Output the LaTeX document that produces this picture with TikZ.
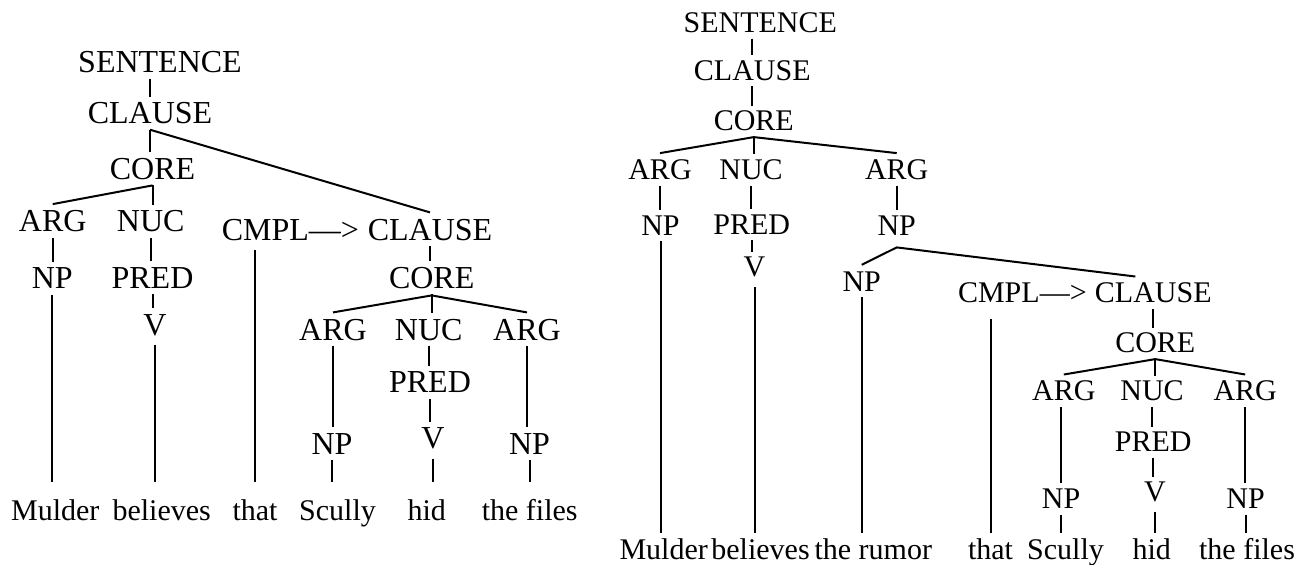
\documentclass[tikz,border=0pt]{standalone}
\usepackage{fontspec}
\setmainfont{Liberation Serif}
\usetikzlibrary{positioning}
\tikzset{
  lbl/.style={inner sep=0pt,anchor=base,text depth=0pt},
  lblL/.style={lbl,font=\fontsize{16}{19}\selectfont,text height=10.6pt}, % left tree labels
  lblR/.style={lbl,font=\fontsize{15}{18}\selectfont,text height=9.9pt},  % right tree labels
  wrd/.style={lbl,font=\fontsize{15}{18}\selectfont,text height=9.9pt},   % words of the sentence
  br/.style={line width=1pt,shorten <=3pt,shorten >=2.5pt},
  brdiag/.style={line width=1pt},
}

\begin{document}
\begin{tikzpicture}[x=0.5pt,y=-0.5pt]
  \useasboundingbox (0,0) rectangle (1305,564);

  % ---- left tree: complement clause ----
  \node[lblL] (Lsen)   at (160,72.3)   {SENTENCE};
  \node[lblL] (Lcl)    at (150,123.3)  {CLAUSE};
  \node[lblL] (Lcore)  at (152.5,179)  {CORE};
  \node[lblL] (Larg)   at (52.7,231.7) {ARG};
  \node[lblL] (Lnuc)   at (150.7,231.7){NUC};
  \node[lblL] (Lnp)    at (52.3,288.3) {NP};
  \node[lblL] (Lpred)  at (152.5,288)  {PRED};
  \node[lblL] (Lv)     at (155,335)    {V};
  \node[lblL] (Lcl2)   at (430,240)    {CLAUSE};
  \node[lblL,base left=4pt of Lcl2] (Lcmpl) {CMPL\textemdash{}>};
  \node[lblL] (Lcore2) at (431.7,288)  {CORE};
  \node[lblL] (Larg2)  at (333,340)    {ARG};
  \node[lblL] (Lnuc2)  at (428.7,340)  {NUC};
  \node[lblL] (Larg3)  at (527,340)    {ARG};
  \node[lblL] (Lpred2) at (430,392.7)  {PRED};
  \node[lblL] (Lnp2)   at (332,454)    {NP};
  \node[lblL] (Lv2)    at (433,448.3)  {V};
  \node[lblL] (Lnp3)   at (529.5,454)  {NP};
  \foreach \i/\x/\w in {1/55.3/Mulder, 2/161.7/believes, 3/255/that,
                        4/337.5/Scully, 5/426.7/hid, 6/529.7/the files}
    \node[wrd] (Lw\i) at (\x,520) {\w};

  \foreach \p/\c in {Lcl/Lcore, Lcore/Lnuc, Larg/Lnp, Lnuc/Lpred, Lpred/Lv,
                     Lcl2/Lcore2, Lcore2/Lnuc2, Larg2/Lnp2, Lnuc2/Lpred2,
                     Lpred2/Lv2, Larg3/Lnp3}
    \draw[br] (\p.south) -- (\p.south |- \c.north);
  \draw[br] (Lcl.north |- Lsen.south) -- (Lcl.north);
  \foreach \p/\c in {Lnp/Lw1, Lnp2/Lw4, Lnp3/Lw6}
    \draw[br,shorten >=9pt] (\p.south) -- (\p.south |- \c.north);
  \foreach \p/\c in {Lv/Lw2, Lv2/Lw5}
    \draw[br,shorten <=5pt,shorten >=9pt] (\p.south) -- (\p.south |- \c.north);
  \draw[br,shorten <=5pt,shorten >=9pt] (Lw3.north |- Lcmpl.south) -- (Lw3.north);

  \draw[brdiag] ([yshift=3pt]Larg.north) -- ([yshift=-3pt]Lcore.south);
  \draw[brdiag] ([yshift=-3pt]Lcl.south) -- ([yshift=3pt]Lcl2.north);
  \draw[brdiag] ([yshift=3pt]Larg2.north) -- ([yshift=-3.5pt]Lcore2.south)
    -- ([yshift=3pt]Larg3.north);

  % ---- right tree: complement inside the NP ----
  \node[lblR] (Rsen)   at (760.3,32.3)  {SENTENCE};
  \node[lblR] (Rcl)    at (752.3,80)    {CLAUSE};
  \node[lblR] (Rcore)  at (753.8,130.7) {CORE};
  \node[lblR] (Rarg)   at (660,179.3)   {ARG};
  \node[lblR] (Rnuc)   at (751,179.3)   {NUC};
  \node[lblR] (Rarg3)  at (896.7,179.3) {ARG};
  \node[lblR] (Rnp)    at (660.5,235)   {NP};
  \node[lblR] (Rpred)  at (751.8,234)   {PRED};
  \node[lblR] (Rnp3)   at (896.7,235)   {NP};
  \node[lblR] (Rv)     at (754.5,276.7) {V};
  \node[lblR] (Rnp4)   at (861.7,291)   {NP};
  \node[lblR] (Rcl2)   at (1153.3,302.7){CLAUSE};
  \node[lblR,base left=3.75pt of Rcl2] (Rcmpl) {CMPL\textemdash{}>};
  \node[lblR] (Rcore2) at (1155.3,352.7){CORE};
  \node[lblR] (Rarg4)  at (1063.8,400.7){ARG};
  \node[lblR] (Rnuc2)  at (1152,400.7)  {NUC};
  \node[lblR] (Rarg6)  at (1245.2,400.7){ARG};
  \node[lblR] (Rpred2) at (1153.2,451.7){PRED};
  \node[lblR] (Rnp5)   at (1061,508.3)  {NP};
  \node[lblR] (Rv2)    at (1155,501.7)  {V};
  \node[lblR] (Rnp6)   at (1245.5,508.3){NP};
  \foreach \i/\x/\w in {1/663.7/Mulder, 2/760.5/believes, 3/873.3/the rumor,
                        4/990.5/that, 5/1065.5/Scully, 6/1151.7/hid, 7/1247/the files}
    \node[wrd] (Rw\i) at (\x,559) {\w};

  \foreach \p/\c in {Rcl/Rcore, Rcore/Rnuc, Rarg/Rnp, Rnuc/Rpred, Rarg3/Rnp3,
                     Rpred/Rv, Rcl2/Rcore2, Rcore2/Rnuc2, Rnuc2/Rpred2,
                     Rpred2/Rv2, Rarg6/Rnp6}
    \draw[br] (\p.south) -- (\p.south |- \c.north);
  \draw[br] (Rcl.north |- Rsen.south) -- (Rcl.north);
  \draw[br] (Rnp5.north |- Rarg4.south) -- (Rnp5.north);
  \foreach \p/\c in {Rnp/Rw1, Rnp4/Rw3, Rnp5/Rw5, Rnp6/Rw7}
    \draw[br,shorten >=3pt] (\p.south) -- (\p.south |- \c.north);
  \foreach \p/\c in {Rv/Rw2, Rv2/Rw6}
    \draw[br,shorten <=5pt,shorten >=3pt] (\p.south) -- (\p.south |- \c.north);
  \draw[br,shorten <=8pt,shorten >=3pt] (Rw4.north |- Rcmpl.south) -- (Rw4.north);

  \draw[brdiag] ([yshift=3pt]Rarg.north) -- ([yshift=-3pt]Rcore.south)
    -- ([yshift=3pt]Rarg3.north);
  \draw[brdiag] ([yshift=3pt]Rnp4.north) -- ([yshift=-6pt]Rnp3.south)
    -- ([xshift=-9pt,yshift=3pt]Rcl2.north);
  \draw[brdiag] ([yshift=3pt]Rarg4.north) -- ([yshift=-3pt]Rcore2.south)
    -- ([yshift=3pt]Rarg6.north);
\end{tikzpicture}
\end{document}
